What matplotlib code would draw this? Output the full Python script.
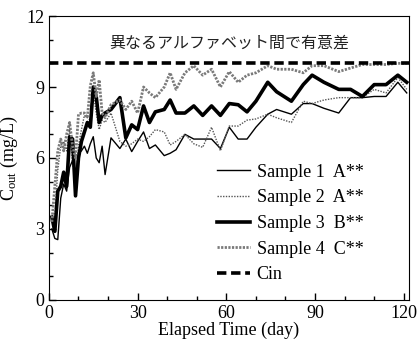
import matplotlib
matplotlib.use("Agg")
import matplotlib.pyplot as plt
import matplotlib.ticker as ticks

days = [1, 2, 3, 4, 5, 6, 7, 8, 9, 10, 11, 12, 13, 14, 15, 16, 17, 18, 19,
        21, 24, 26, 28, 30, 32, 34, 36, 39, 41, 43, 46,
        49, 52, 55, 58, 61, 64, 67, 70,
        74, 77, 82, 86, 89, 93, 98, 102, 106, 110, 114, 118, 121]

sample1 = [3.0, 2.6, 2.55, 4.3, 4.9, 4.6, 5.6, 5.9, 5.3, 6.2, 6.3, 6.5, 6.2, 6.6, 6.9, 6.0, 5.8, 6.5, 5.3,
           6.85, 6.4, 6.8, 6.27, 6.7, 7.1, 6.4, 6.55, 6.1, 6.2, 6.35, 7.0,
           6.8, 6.8, 6.8, 6.4, 7.3, 6.8, 6.8, 7.3,
           7.85, 8.05, 7.85, 8.3, 8.3, 8.1, 7.9, 8.55, 8.55, 8.6, 8.6, 9.2, 8.75]
sample2 = [3.3, 3.5, 5.5, 6.5, 6.7, 6.3, 7.2, 5.8, 5.0, 6.5, 7.2, 7.8, 7.7, 7.6, 8.8, 7.9, 7.2, 7.6, 7.5,
           7.9, 6.7, 6.5, 6.6, 6.8, 6.7, 6.9, 7.2, 7.1, 6.55, 6.7, 7.0,
           6.6, 6.45, 7.3, 6.3, 7.35, 7.35, 7.6, 7.65,
           7.85, 7.7, 7.5, 8.4, 8.3, 8.45, 8.55, 8.55, 8.55, 8.9, 8.75, 9.4, 8.9]
sample3 = [3.5, 2.9, 4.6, 4.8, 5.4, 4.8, 6.9, 6.8, 4.4, 6.0, 6.7, 7.1, 7.5, 7.3, 9.0, 8.6, 7.5, 7.8, 7.9,
           8.05, 8.55, 6.85, 7.4, 7.2, 8.2, 7.5, 7.95, 8.05, 8.45, 7.9, 7.9,
           8.2, 7.8, 8.2, 7.8, 8.3, 8.25, 7.95, 8.4,
           9.2, 8.8, 8.4, 9.1, 9.5, 9.2, 8.9, 8.9, 8.6, 9.1, 9.1, 9.5, 9.2]
sample4 = [3.3, 4.8, 6.3, 6.8, 6.3, 7.0, 7.5, 6.5, 6.0, 7.85, 7.9, 7.9, 7.7, 9.05, 9.6, 8.6, 9.3, 7.9, 7.7,
           8.25, 8.45, 8.05, 8.4, 7.9, 9.0, 8.75, 8.55, 9.0, 9.6, 8.9, 9.6,
           9.9, 9.5, 9.75, 9.0, 9.65, 9.2, 9.5, 9.6,
           9.9, 9.75, 9.75, 9.6, 9.9, 9.9, 9.65, 9.8, 9.95, 9.95, 9.95, 10.0, 10.0]
cin = 10

labels = ["Sample 1  A**", "Sample 2  A**", "Sample 3  B**", "Sample 4  C**", "Cin"]
note = "異なるアルファベット間で有意差"

plt.rcParams['font.family'] = ['Liberation Serif', 'DejaVu Serif']
plt.rcParams['mathtext.fontset'] = 'stix'

fig = plt.figure(figsize=(4.18, 3.48), dpi=100)
ax = fig.add_axes([0.117, 0.138, 0.861, 0.816])

ax.plot(days, sample1, color='black', lw=1.0, label=labels[0])
ax.plot(days, sample2, color='#555555', lw=1.0, ls=(0, (1, 1)), label=labels[1])
ax.plot(days, sample3, color='black', lw=2.6, label=labels[2])
ax.plot(days, sample4, color='#7a7a7a', lw=2.0, ls=(0, (0.8, 0.5)), label=labels[3])
ax.axhline(cin, color='black', lw=2.6, dashes=(2.6, 1.3), label=labels[4])

ax.set_xlim(0, 121.7)
ax.set_ylim(0, 12)
ax.xaxis.set_major_locator(ticks.MultipleLocator(30))
ax.xaxis.set_minor_locator(ticks.MultipleLocator(10))
ax.yaxis.set_major_locator(ticks.MultipleLocator(3))
ax.yaxis.set_minor_locator(ticks.MultipleLocator(1))
ax.tick_params(which='both', direction='in', top=False, right=False, labelsize=13)
ax.tick_params(which='major', length=5, width=1)
ax.tick_params(which='minor', length=3, width=1)

ax.set_xlabel("Elapsed Time (day)", fontsize=13, labelpad=0)
ax.set_ylabel(r"C$_\mathregular{out}$ (mg/L)", fontsize=13, labelpad=4)

ax.text(0.5, 0.905, note, transform=ax.transAxes, ha='center', va='center',
        fontsize=11.5, family=['Noto Sans CJK JP', 'DejaVu Sans'], color='#222222')

ax.legend(loc='upper left', bbox_to_anchor=(0.447, 0.505), frameon=False, fontsize=13,
          handlelength=1.8, handletextpad=0.4, labelspacing=0.48, borderaxespad=0)

fig.savefig("out.png", dpi=100)
